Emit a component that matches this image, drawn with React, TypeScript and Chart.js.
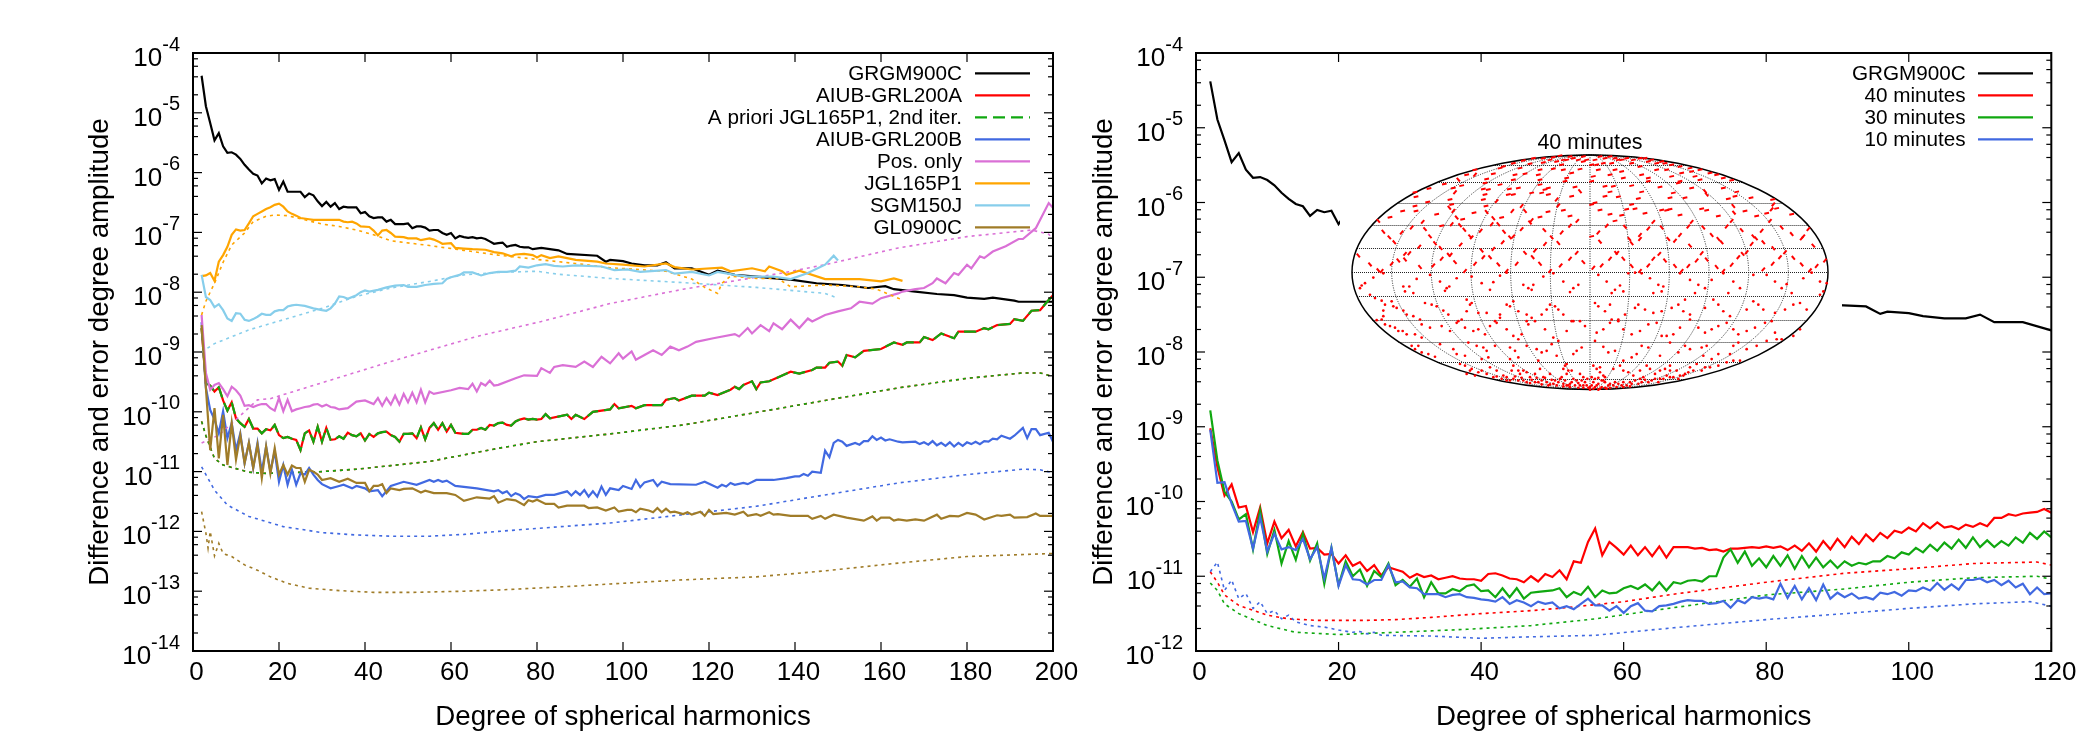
import React, { useEffect, useRef } from "react";
import { Chart, registerables } from "chart.js";

Chart.register(...registerables);

type Row = number[];
const FONT = "'Liberation Sans', Arimo, Helvetica, Arial, sans-serif";
const COL = { black: "#000000", red: "#ff0000", green: "#10a810", blue: "#4169e1", orchid: "#da70d6", orange: "#ffa500", sky: "#87ceeb", brown: "#a07c28" };

// Every row: [degree, log10(amplitude)]
const grgm900c: Row[] = [[2,-4.38],[3,-4.89],[4,-5.17],[5,-5.46],[6,-5.34],[7,-5.56],[8,-5.67],[9,-5.66],[10,-5.70],[11,-5.77],[12,-5.87],[13,-5.95],[14,-6.02],[15,-6.05],[16,-6.18],[17,-6.10],[18,-6.13],[19,-6.11],[20,-6.29],[21,-6.15],[22,-6.32],[23,-6.32],[25,-6.32],[26,-6.41],[27,-6.35],[28,-6.38],[29,-6.48],[30,-6.56],[31,-6.49],[32,-6.57],[33,-6.51],[34,-6.61],[35,-6.57],[36,-6.58],[38,-6.58],[39,-6.68],[40,-6.66],[41,-6.73],[42,-6.76],[43,-6.75],[44,-6.75],[45,-6.82],[46,-6.79],[47,-6.86],[49,-6.86],[50,-6.85],[51,-6.93],[52,-6.90],[53,-6.90],[54,-6.92],[55,-6.97],[56,-6.96],[57,-6.96],[58,-7.01],[59,-7.04],[60,-7.01],[61,-7.10],[62,-7.06],[63,-7.08],[64,-7.09],[65,-7.08],[66,-7.10],[67,-7.09],[68,-7.11],[69,-7.15],[70,-7.19],[71,-7.18],[72,-7.17],[73,-7.24],[74,-7.22],[75,-7.21],[76,-7.24],[77,-7.25],[78,-7.25],[79,-7.28],[81,-7.26],[85,-7.30],[87,-7.36],[94,-7.39],[96,-7.49],[97,-7.46],[100,-7.48],[102,-7.52],[105,-7.55],[108,-7.55],[110,-7.50],[112,-7.60],[116,-7.60],[120,-7.71],[122,-7.64],[126,-7.71],[131,-7.74],[134,-7.76],[139,-7.79],[145,-7.85],[151,-7.88],[157,-7.93],[161,-7.90],[163,-7.95],[168,-7.99],[173,-8.03],[177,-8.05],[180,-8.09],[184,-8.11],[186,-8.09],[191,-8.14],[192,-8.16],[197,-8.16],[200,-8.16]];

const aiubA: Row[] = [[2,-8.6],[3,-9.52],[4,-9.56],[5,-9.66],[6,-9.59],[7,-9.81],[8,-9.98],[9,-9.84],[10,-10.11],[11,-10.19],[12,-10.25],[13,-10.12],[14,-10.28],[15,-10.28],[16,-10.36],[17,-10.29],[18,-10.31],[19,-10.22],[20,-10.39],[21,-10.44],[22,-10.42],[23,-10.45],[24,-10.47],[25,-10.64],[26,-10.36],[27,-10.31],[28,-10.50],[29,-10.25],[30,-10.50],[31,-10.27],[32,-10.47],[33,-10.46],[34,-10.41],[35,-10.45],[36,-10.35],[37,-10.39],[38,-10.41],[39,-10.36],[40,-10.48],[41,-10.37],[42,-10.42],[43,-10.36],[44,-10.34],[45,-10.33],[46,-10.39],[47,-10.42],[48,-10.50],[49,-10.37],[50,-10.37],[51,-10.36],[52,-10.44],[53,-10.26],[54,-10.46],[55,-10.27],[56,-10.19],[57,-10.30],[58,-10.19],[59,-10.33],[60,-10.22],[61,-10.35],[62,-10.36],[63,-10.37],[64,-10.37],[65,-10.30],[66,-10.30],[67,-10.27],[68,-10.30],[69,-10.22],[70,-10.23],[71,-10.19],[72,-10.18],[73,-10.22],[74,-10.23],[75,-10.16],[76,-10.13],[77,-10.11],[78,-10.13],[79,-10.12],[80,-10.13],[81,-10.12],[82,-10.04],[83,-10.11],[87,-10.05],[88,-10.12],[89,-10.05],[91,-10.12],[93,-10.0],[97,-9.96],[98,-9.87],[99,-9.94],[102,-9.90],[103,-9.94],[105,-9.89],[109,-9.89],[110,-9.80],[112,-9.77],[113,-9.81],[116,-9.73],[119,-9.73],[120,-9.68],[122,-9.72],[125,-9.63],[126,-9.58],[127,-9.62],[128,-9.55],[130,-9.49],[131,-9.62],[132,-9.51],[134,-9.49],[139,-9.33],[141,-9.36],[144,-9.30],[145,-9.26],[147,-9.26],[148,-9.18],[150,-9.16],[151,-9.23],[152,-9.05],[154,-9.09],[156,-8.98],[160,-8.95],[163,-8.84],[165,-8.88],[166,-8.84],[169,-8.84],[170,-8.75],[172,-8.80],[174,-8.69],[177,-8.77],[178,-8.66],[182,-8.66],[184,-8.60],[185,-8.62],[187,-8.55],[190,-8.53],[191,-8.45],[193,-8.48],[195,-8.31],[197,-8.30],[199,-8.13],[200,-8.05]];
const aiubANoise: Row[] = [[2,-10.16],[3,-10.4],[5,-10.78],[7,-10.89],[10,-10.95],[13,-11.01],[17,-11.03],[21,-11.02],[30,-11.0],[38,-10.96],[46,-10.90],[55,-10.83],[63,-10.72],[71,-10.61],[80,-10.50],[97,-10.37],[114,-10.22],[131,-10.01],[147,-9.81],[164,-9.60],[180,-9.44],[193,-9.35],[197,-9.35],[200,-9.41]];

const aiubB: Row[] = [[2,-8.5],[3,-9.6],[4,-9.97],[5,-10.13],[6,-10.36],[7,-9.99],[8,-10.44],[9,-10.19],[10,-10.64],[11,-10.36],[12,-10.86],[13,-10.52],[14,-10.94],[15,-10.52],[16,-11.0],[17,-10.58],[18,-11.0],[19,-10.66],[20,-11.17],[21,-10.89],[22,-11.22],[23,-10.97],[24,-11.22],[25,-11.03],[26,-11.05],[27,-10.94],[28,-11.05],[29,-11.14],[30,-11.21],[32,-11.28],[34,-11.24],[35,-11.22],[37,-11.28],[38,-11.24],[40,-11.28],[41,-11.33],[43,-11.31],[44,-11.41],[46,-11.24],[49,-11.17],[52,-11.22],[55,-11.14],[56,-11.17],[57,-11.14],[58,-11.17],[59,-11.15],[61,-11.24],[66,-11.28],[70,-11.33],[71,-11.31],[72,-11.36],[73,-11.33],[74,-11.41],[75,-11.36],[76,-11.39],[77,-11.46],[78,-11.41],[80,-11.43],[82,-11.39],[84,-11.39],[87,-11.33],[88,-11.40],[89,-11.33],[90,-11.39],[91,-11.31],[92,-11.42],[93,-11.33],[94,-11.42],[95,-11.25],[96,-11.39],[97,-11.28],[99,-11.31],[100,-11.24],[102,-11.29],[103,-11.14],[104,-11.26],[105,-11.18],[107,-11.14],[108,-11.24],[109,-11.17],[111,-11.21],[117,-11.22],[119,-11.17],[122,-11.27],[123,-11.22],[124,-11.25],[125,-11.19],[126,-11.22],[128,-11.19],[129,-11.21],[131,-11.14],[135,-11.14],[138,-11.11],[140,-11.08],[141,-11.08],[142,-11.04],[143,-11.07],[144,-11.0],[146,-11.02],[147,-10.65],[148,-10.76],[149,-10.52],[150,-10.47],[151,-10.50],[152,-10.57],[154,-10.52],[155,-10.55],[156,-10.49],[157,-10.49],[158,-10.41],[159,-10.47],[160,-10.43],[161,-10.48],[162,-10.46],[164,-10.50],[165,-10.51],[168,-10.50],[169,-10.54],[170,-10.51],[171,-10.55],[172,-10.49],[173,-10.56],[174,-10.52],[175,-10.57],[176,-10.51],[177,-10.58],[178,-10.52],[179,-10.57],[180,-10.51],[181,-10.54],[182,-10.50],[183,-10.54],[184,-10.49],[185,-10.50],[186,-10.45],[187,-10.46],[188,-10.40],[190,-10.45],[191,-10.40],[193,-10.27],[194,-10.44],[195,-10.29],[196,-10.29],[197,-10.39],[199,-10.35],[200,-10.50]];
const aiubBNoise: Row[] = [[2,-10.92],[5,-11.31],[8,-11.56],[13,-11.75],[21,-11.92],[30,-12.02],[38,-12.06],[46,-12.08],[55,-12.08],[63,-12.05],[71,-12.0],[80,-11.95],[97,-11.86],[114,-11.72],[131,-11.58],[147,-11.39],[164,-11.19],[180,-11.05],[193,-10.96],[197,-10.97],[200,-11.02]];

const posOnly: Row[] = [[2,-8.38],[3,-9.35],[4,-9.63],[5,-9.55],[6,-9.52],[7,-9.62],[8,-9.74],[9,-9.58],[10,-9.64],[11,-9.73],[12,-9.90],[13,-9.89],[14,-9.92],[15,-9.89],[16,-9.87],[17,-9.87],[18,-9.94],[19,-9.98],[20,-9.77],[21,-9.99],[22,-9.80],[23,-9.99],[24,-9.96],[25,-9.94],[26,-9.92],[27,-9.91],[28,-9.88],[29,-9.87],[30,-9.91],[31,-9.88],[32,-9.92],[33,-9.93],[34,-9.96],[36,-9.94],[38,-9.83],[40,-9.81],[42,-9.87],[43,-9.77],[44,-9.90],[45,-9.77],[46,-9.88],[47,-9.73],[48,-9.88],[49,-9.70],[50,-9.84],[51,-9.68],[52,-9.84],[53,-9.63],[54,-9.84],[55,-9.66],[56,-9.70],[60,-9.64],[62,-9.60],[64,-9.62],[65,-9.53],[66,-9.66],[67,-9.52],[68,-9.56],[69,-9.48],[70,-9.56],[71,-9.55],[75,-9.44],[77,-9.39],[80,-9.40],[81,-9.27],[83,-9.35],[84,-9.25],[86,-9.22],[89,-9.25],[91,-9.16],[93,-9.25],[95,-9.08],[97,-9.19],[99,-9.02],[100,-9.11],[102,-8.99],[103,-9.13],[105,-9.05],[107,-8.97],[109,-9.05],[111,-8.91],[113,-8.97],[115,-8.91],[117,-8.83],[121,-8.77],[126,-8.70],[127,-8.74],[129,-8.60],[130,-8.69],[132,-8.55],[134,-8.65],[135,-8.52],[137,-8.62],[139,-8.46],[141,-8.60],[143,-8.44],[144,-8.49],[147,-8.38],[150,-8.32],[153,-8.27],[155,-8.16],[158,-8.19],[160,-8.10],[164,-8.02],[165,-7.99],[168,-7.95],[170,-7.93],[172,-7.85],[173,-7.77],[175,-7.85],[177,-7.68],[178,-7.71],[180,-7.54],[181,-7.60],[183,-7.40],[184,-7.43],[186,-7.32],[189,-7.23],[192,-7.11],[193,-7.11],[196,-6.93],[199,-6.51],[200,-6.59]];
const posOnlyNoise: Row[] = [[2,-10.52],[6,-10.39],[10,-10.13],[15,-9.80],[18,-9.78],[46,-9.16],[66,-8.74],[81,-8.49],[97,-8.19],[114,-7.95],[137,-7.68],[147,-7.54],[164,-7.26],[180,-7.07],[195,-6.96],[199,-7.03],[200,-7.12]];

const jgl165p1: Row[] = [[2,-7.73],[3,-7.72],[4,-7.68],[5,-7.81],[6,-7.49],[7,-7.38],[8,-7.24],[9,-7.04],[10,-6.95],[11,-6.97],[12,-6.96],[13,-6.85],[14,-6.73],[15,-6.69],[16,-6.65],[17,-6.61],[18,-6.58],[19,-6.54],[20,-6.52],[21,-6.57],[22,-6.65],[23,-6.69],[24,-6.72],[25,-6.76],[27,-6.78],[28,-6.79],[34,-6.79],[35,-6.82],[36,-6.83],[37,-6.82],[38,-6.85],[39,-6.90],[41,-6.91],[42,-6.97],[43,-7.05],[44,-6.97],[45,-6.96],[46,-7.01],[47,-7.07],[49,-7.08],[50,-7.10],[52,-7.10],[53,-7.13],[55,-7.10],[56,-7.12],[57,-7.15],[58,-7.19],[60,-7.18],[61,-7.26],[63,-7.27],[65,-7.28],[68,-7.29],[70,-7.33],[72,-7.35],[74,-7.40],[75,-7.37],[77,-7.36],[79,-7.38],[80,-7.42],[81,-7.38],[83,-7.43],[85,-7.40],[87,-7.43],[89,-7.46],[94,-7.49],[96,-7.52],[100,-7.54],[105,-7.57],[110,-7.52],[112,-7.58],[116,-7.62],[123,-7.59],[125,-7.65],[130,-7.60],[133,-7.65],[134,-7.57],[137,-7.65],[138,-7.71],[141,-7.64],[147,-7.78],[155,-7.78],[160,-7.82],[163,-7.77],[165,-7.81]];
const jgl165p1Noise: Row[] = [[2,-8.38],[3,-8.15],[5,-7.85],[7,-7.5],[9,-7.21],[12,-7.01],[14,-6.82],[17,-6.73],[19,-6.71],[22,-6.72],[26,-6.79],[30,-6.86],[34,-6.90],[38,-6.96],[42,-7.04],[46,-7.14],[55,-7.22],[63,-7.30],[71,-7.38],[81,-7.46],[89,-7.52],[97,-7.59],[110,-7.65],[116,-7.78],[119,-7.92],[122,-8.02],[123,-7.85],[125,-7.73],[131,-7.77],[136,-7.77],[139,-7.91],[147,-7.88],[155,-7.91],[159,-7.95],[165,-8.13]];

const sgm150j: Row[] = [[2,-7.71],[3,-8.08],[4,-8.13],[5,-8.25],[6,-8.20],[7,-8.30],[8,-8.44],[9,-8.48],[10,-8.35],[11,-8.36],[12,-8.46],[13,-8.48],[14,-8.45],[15,-8.41],[16,-8.36],[17,-8.38],[18,-8.38],[19,-8.32],[20,-8.30],[21,-8.30],[22,-8.24],[23,-8.22],[24,-8.21],[26,-8.23],[28,-8.27],[30,-8.30],[31,-8.31],[32,-8.27],[33,-8.19],[34,-8.07],[35,-8.08],[36,-8.11],[38,-8.05],[39,-8.0],[40,-7.97],[41,-7.99],[43,-7.96],[45,-7.92],[47,-7.89],[49,-7.88],[50,-7.91],[52,-7.91],[54,-7.88],[56,-7.86],[58,-7.85],[59,-7.78],[60,-7.75],[62,-7.71],[63,-7.67],[65,-7.67],[67,-7.72],[69,-7.68],[71,-7.66],[73,-7.66],[75,-7.64],[76,-7.57],[78,-7.59],[80,-7.55],[82,-7.53],[84,-7.56],[86,-7.57],[89,-7.55],[95,-7.57],[98,-7.63],[101,-7.62],[104,-7.66],[110,-7.63],[112,-7.69],[116,-7.66],[120,-7.72],[122,-7.66],[126,-7.71],[129,-7.74],[135,-7.74],[139,-7.78],[143,-7.68],[147,-7.54],[149,-7.39],[150,-7.47]];
const sgm150jNoise: Row[] = [[2,-9.0],[5,-8.86],[13,-8.63],[22,-8.44],[30,-8.27],[38,-8.07],[46,-7.93],[55,-7.82],[63,-7.71],[71,-7.67],[80,-7.65],[85,-7.70],[97,-7.77],[114,-7.84],[131,-7.92],[147,-8.02],[150,-8.10]];

const gl0900c: Row[] = [[2,-8.55],[3,-9.6],[4,-10.64],[5,-9.94],[6,-10.78],[7,-10.05],[8,-10.89],[9,-10.19],[10,-10.80],[11,-10.39],[12,-10.86],[13,-10.52],[14,-10.94],[15,-10.55],[16,-11.11],[17,-10.58],[18,-11.03],[19,-10.61],[20,-11.05],[21,-10.89],[22,-11.05],[23,-10.90],[24,-10.94],[25,-10.94],[26,-11.17],[27,-10.97],[28,-11.0],[29,-11.05],[30,-11.14],[32,-11.11],[34,-11.17],[36,-11.12],[38,-11.19],[40,-11.19],[41,-11.33],[42,-11.24],[43,-11.24],[44,-11.21],[45,-11.36],[46,-11.28],[48,-11.31],[49,-11.29],[51,-11.28],[53,-11.35],[54,-11.32],[56,-11.36],[59,-11.36],[61,-11.39],[63,-11.49],[66,-11.43],[69,-11.45],[70,-11.41],[71,-11.52],[73,-11.46],[75,-11.48],[77,-11.56],[78,-11.48],[79,-11.50],[80,-11.47],[82,-11.54],[84,-11.54],[85,-11.60],[87,-11.57],[91,-11.57],[92,-11.61],[94,-11.60],[96,-11.65],[98,-11.60],[99,-11.67],[101,-11.64],[102,-11.64],[103,-11.68],[104,-11.62],[106,-11.65],[107,-11.68],[108,-11.61],[109,-11.68],[110,-11.62],[111,-11.68],[112,-11.67],[114,-11.71],[115,-11.68],[116,-11.72],[118,-11.67],[119,-11.74],[120,-11.64],[121,-11.71],[124,-11.69],[126,-11.72],[128,-11.67],[129,-11.74],[131,-11.71],[132,-11.74],[133,-11.71],[134,-11.68],[135,-11.72],[136,-11.71],[139,-11.74],[143,-11.74],[144,-11.79],[146,-11.74],[147,-11.79],[149,-11.72],[152,-11.77],[156,-11.82],[158,-11.75],[159,-11.82],[160,-11.77],[162,-11.77],[163,-11.82],[164,-11.80],[166,-11.82],[168,-11.80],[170,-11.82],[173,-11.72],[174,-11.79],[176,-11.74],[178,-11.75],[180,-11.69],[182,-11.72],[184,-11.80],[187,-11.73],[188,-11.74],[190,-11.72],[191,-11.77],[194,-11.76],[196,-11.70],[197,-11.74],[200,-11.74]];
const gl0900cNoise: Row[] = [[2,-11.67],[3,-12.03],[3.5,-12.28],[4,-12.0],[5,-12.41],[6,-12.2],[7,-12.37],[9,-12.42],[12,-12.56],[15,-12.65],[18,-12.76],[22,-12.87],[27,-12.95],[34,-12.99],[42,-13.02],[51,-13.02],[63,-13.0],[71,-12.98],[85,-12.93],[97,-12.88],[114,-12.81],[131,-12.76],[147,-12.66],[164,-12.53],[180,-12.42],[200,-12.37]];

const red40: Row[] = [[2,-9.02],[3,-9.54],[4,-9.92],[5,-9.77],[6,-10.08],[7,-10.06],[8,-10.41],[9,-10.08],[10,-10.56],[11,-10.27],[12,-10.49],[13,-10.38],[14,-10.60],[15,-10.41],[16,-10.63],[17,-10.62],[18,-10.71],[19,-10.70],[20,-10.83],[21,-10.72],[22,-10.86],[23,-10.81],[24,-10.93],[25,-10.85],[26,-10.99],[27,-10.88],[28,-10.91],[29,-10.94],[30,-11.02],[31,-10.97],[32,-11.01],[33,-10.99],[34,-11.04],[35,-11.02],[36,-11.0],[37,-11.03],[38,-11.04],[39,-11.04],[40,-11.06],[41,-10.97],[42,-10.96],[43,-10.99],[44,-11.03],[45,-11.04],[46,-11.08],[47,-11.0],[48,-11.07],[49,-10.97],[50,-11.01],[51,-10.92],[52,-11.04],[53,-10.80],[54,-10.82],[55,-10.54],[56,-10.36],[57,-10.72],[58,-10.54],[59,-10.62],[60,-10.71],[61,-10.59],[62,-10.72],[63,-10.61],[64,-10.73],[65,-10.60],[66,-10.75],[67,-10.61],[68,-10.61],[69,-10.61],[70,-10.63],[71,-10.62],[72,-10.65],[73,-10.64],[74,-10.67],[75,-10.63],[76,-10.63],[77,-10.62],[78,-10.61],[79,-10.62],[80,-10.60],[81,-10.62],[82,-10.60],[83,-10.65],[84,-10.59],[85,-10.66],[86,-10.56],[87,-10.67],[88,-10.53],[89,-10.64],[90,-10.50],[91,-10.61],[92,-10.47],[93,-10.57],[94,-10.44],[95,-10.53],[96,-10.42],[97,-10.49],[98,-10.39],[99,-10.42],[100,-10.35],[101,-10.40],[102,-10.29],[103,-10.36],[104,-10.28],[105,-10.35],[106,-10.33],[107,-10.37],[108,-10.31],[109,-10.34],[110,-10.29],[111,-10.33],[112,-10.22],[113,-10.22],[114,-10.17],[115,-10.19],[116,-10.16],[117,-10.15],[118,-10.14],[119,-10.10],[120,-10.15]];
const green30: Row[] = [[2,-8.78],[3,-9.45],[4,-9.87],[5,-10.0],[6,-10.24],[7,-10.17],[8,-10.64],[9,-10.12],[10,-10.70],[11,-10.38],[12,-10.83],[13,-10.53],[14,-10.78],[15,-10.43],[16,-10.79],[17,-10.56],[18,-11.10],[19,-10.62],[20,-11.12],[21,-10.80],[22,-11.0],[23,-10.91],[24,-11.13],[25,-10.93],[26,-11.01],[27,-10.83],[28,-11.12],[29,-11.05],[30,-11.14],[31,-11.03],[32,-11.28],[33,-11.08],[34,-11.23],[35,-11.23],[36,-11.17],[37,-11.20],[38,-11.13],[39,-11.11],[40,-11.20],[41,-11.19],[42,-11.28],[43,-11.16],[44,-11.28],[45,-11.16],[46,-11.30],[47,-11.22],[48,-11.21],[49,-11.20],[50,-11.19],[51,-11.16],[52,-11.28],[53,-11.21],[54,-11.25],[55,-11.14],[56,-11.28],[57,-11.19],[58,-11.23],[59,-11.22],[60,-11.16],[61,-11.13],[62,-11.17],[63,-11.11],[64,-11.19],[65,-11.08],[66,-11.19],[67,-11.08],[68,-11.10],[69,-11.06],[70,-11.05],[71,-11.07],[72,-11.0],[73,-11.0],[74,-10.75],[75,-10.64],[76,-10.82],[77,-10.67],[78,-10.86],[79,-10.76],[80,-10.88],[81,-10.73],[82,-10.86],[83,-10.72],[84,-10.90],[85,-10.73],[86,-10.88],[87,-10.75],[88,-10.88],[89,-10.79],[90,-10.89],[91,-10.80],[92,-10.86],[93,-10.82],[94,-10.84],[95,-10.80],[96,-10.80],[97,-10.73],[98,-10.76],[99,-10.68],[100,-10.71],[101,-10.62],[102,-10.68],[103,-10.58],[104,-10.66],[105,-10.55],[106,-10.63],[107,-10.51],[108,-10.62],[109,-10.48],[110,-10.61],[111,-10.52],[112,-10.61],[113,-10.53],[114,-10.59],[115,-10.48],[116,-10.55],[117,-10.42],[118,-10.50],[119,-10.40],[120,-10.48]];
const blue10: Row[] = [[2,-9.04],[3,-9.75],[4,-9.74],[5,-10.03],[6,-10.27],[7,-10.26],[8,-10.63],[9,-10.21],[10,-10.67],[11,-10.43],[12,-10.64],[13,-10.61],[14,-10.65],[15,-10.50],[16,-10.77],[17,-10.61],[18,-11.03],[19,-10.62],[20,-11.13],[21,-10.85],[22,-11.04],[23,-11.05],[24,-11.11],[25,-11.05],[26,-11.05],[27,-10.85],[28,-11.08],[29,-11.07],[30,-11.15],[31,-11.16],[32,-11.24],[33,-11.24],[34,-11.24],[35,-11.28],[36,-11.25],[37,-11.24],[38,-11.28],[39,-11.29],[40,-11.31],[41,-11.32],[42,-11.34],[43,-11.28],[44,-11.37],[45,-11.32],[46,-11.35],[47,-11.40],[48,-11.34],[49,-11.37],[50,-11.35],[51,-11.43],[52,-11.40],[53,-11.44],[54,-11.37],[55,-11.30],[56,-11.39],[57,-11.39],[58,-11.46],[59,-11.40],[60,-11.49],[61,-11.40],[62,-11.36],[63,-11.46],[64,-11.47],[65,-11.40],[66,-11.39],[67,-11.37],[68,-11.34],[69,-11.32],[70,-11.33],[71,-11.33],[72,-11.37],[73,-11.36],[74,-11.33],[75,-11.42],[76,-11.32],[77,-11.36],[78,-11.28],[79,-11.30],[80,-11.28],[81,-11.31],[82,-11.10],[83,-11.29],[84,-11.13],[85,-11.31],[86,-11.16],[87,-11.32],[88,-11.11],[89,-11.30],[90,-11.22],[91,-11.28],[92,-11.23],[93,-11.30],[94,-11.28],[95,-11.31],[96,-11.22],[97,-11.24],[98,-11.21],[99,-11.26],[100,-11.19],[101,-11.20],[102,-11.15],[103,-11.19],[104,-11.09],[105,-11.18],[106,-11.11],[107,-11.18],[108,-11.05],[109,-11.05],[110,-11.03],[111,-11.08],[112,-11.05],[113,-11.12],[114,-11.06],[115,-11.15],[116,-11.10],[117,-11.24],[118,-11.15],[119,-11.24],[120,-11.23]];
const red40Noise: Row[] = [[2,-10.94],[3,-11.08],[4,-11.25],[6,-11.39],[10,-11.52],[13,-11.57],[17,-11.59],[24,-11.59],[28,-11.58],[33,-11.55],[40,-11.50],[47,-11.46],[52,-11.42],[60,-11.34],[67,-11.24],[80,-11.08],[91,-10.96],[100,-10.90],[109,-10.83],[118,-10.81],[120,-10.85]];
const green30Noise: Row[] = [[2,-11.09],[3,-11.19],[4,-11.37],[6,-11.50],[10,-11.66],[14,-11.75],[20,-11.78],[28,-11.75],[38,-11.71],[47,-11.66],[56,-11.57],[67,-11.42],[80,-11.25],[91,-11.17],[100,-11.08],[109,-11.02],[118,-11.0],[120,-11.04]];
const blue10Noise: Row[] = [[2,-10.94],[3,-10.81],[4,-11.19],[5,-11.05],[6,-11.30],[7,-11.23],[8,-11.43],[9,-11.34],[10,-11.50],[11,-11.46],[12,-11.57],[13,-11.52],[14,-11.61],[16,-11.66],[18,-11.68],[20,-11.72],[22,-11.75],[23,-11.74],[24,-11.77],[25,-11.75],[26,-11.79],[33,-11.80],[40,-11.83],[47,-11.81],[56,-11.79],[67,-11.69],[80,-11.58],[91,-11.50],[100,-11.43],[109,-11.37],[117,-11.34],[120,-11.40]];

const xTicksLeft = [0, 200];
const xTicksRight = [0, 120];
const yRangeLeft = [-14, -4];
const yRangeRight = [-12, -4];
const minorMantissas = [2, 4, 6, 8];
const xAxisTitle = "Degree of spherical harmonics";
const yAxisTitle = "Difference and error degree amplitude";
const insetTitle = "40 minutes";

// Ground-track samples of the 40-minute arc, in map-grid units, per map quadrant [along, down]
const nwRise: Row[] = [[125,345],[178,313],[165,315],[275,330],[250,350],[302,318],[375,345],[400,325],[430,300],[500,345],[555,305],[632,350],[660,330],[680,312],[95,367],[345,367],[470,367],[600,367],[155,250],[185,235],[208,293],[218,218],[305,225],[392,245],[365,265],[332,287],[425,225],[490,262],[458,280],[515,240],[545,213],[487,185],[515,170],[585,285],[635,250],[660,230],[682,215],[625,168],[620,150],[310,185],[315,128],[375,75],[440,155]];
const nwFall: Row[] = [[25,320],[60,347],[85,365],[165,332],[145,335],[210,355],[296,318],[315,340],[395,305],[420,325],[445,347],[525,312],[548,325],[570,345],[700,340],[85,215],[100,248],[118,265],[133,280],[225,240],[240,262],[255,283],[272,297],[298,175],[320,205],[330,228],[343,242],[360,262],[410,188],[430,207],[445,225],[462,248],[480,265],[540,220],[525,185],[583,243],[605,265],[625,282],[690,125],[325,90]];
const nwFlat: Row[] = [[158,185],[120,204],[195,170],[198,185],[195,128],[198,142],[237,117],[233,158],[283,103],[260,195],[300,150],[305,165],[338,210],[275,230],[372,190],[408,170],[455,205],[570,203],[594,187],[660,200],[640,183],[665,140],[675,112],[645,95],[650,85],[310,115],[335,108],[350,75],[375,60],[405,100],[410,88],[400,118],[415,120],[405,135],[400,150],[450,105],[450,55],[430,72],[475,135],[490,135],[478,118],[505,115],[490,90],[495,75],[510,55],[525,72],[570,60],[565,75],[570,90],[570,105],[545,130],[585,120],[575,130],[595,115],[595,135],[640,60],[635,45],[640,30],[610,57],[665,70],[690,58],[700,35],[490,40],[520,32],[550,25],[580,38],[610,22],[630,17],[660,20],[700,20],[600,30],[620,35],[650,30],[670,25],[685,30],[710,30],[580,25],[540,42],[460,50]];
const neRise: Row[] = [[10,357],[35,350],[60,330],[82,312],[150,367],[175,350],[190,330],[208,315],[275,367],[295,352],[320,335],[335,313],[400,367],[425,348],[445,325],[470,310],[520,362],[548,345],[570,325],[585,310],[660,365],[680,352],[705,335],[25,250],[50,230],[150,258],[150,270],[175,238],[190,218],[255,275],[270,258],[295,232],[305,218],[410,232],[425,215],[485,285],[515,245],[540,215],[640,262],[635,268],[655,240],[545,180],[550,165]];
const neFall: Row[] = [[100,330],[125,352],[78,312],[225,335],[255,352],[350,332],[380,355],[458,315],[610,327],[635,347],[30,278],[105,233],[118,270],[125,283],[215,235],[235,270],[340,235],[365,258],[385,270],[395,280],[455,243],[490,262],[498,268],[520,280],[575,235],[605,255],[670,290],[550,298],[300,290],[345,125],[350,135],[430,170],[432,190]];
const neFlat: Row[] = [[5,262],[75,215],[15,160],[5,165],[30,182],[60,195],[95,198],[110,180],[135,178],[125,165],[145,147],[165,192],[215,182],[240,180],[230,183],[240,145],[250,130],[270,197],[285,145],[335,178],[350,183],[305,115],[385,200],[415,148],[435,140],[440,127],[465,185],[500,200],[530,192],[560,177],[548,150],[483,145],[400,115],[605,195],[125,108],[155,127],[175,95],[210,112],[45,110],[60,127],[45,140],[85,142],[70,110],[30,20],[40,40],[25,60],[10,80],[5,95],[60,75],[85,30],[75,60],[95,65],[100,85],[125,40],[150,50],[175,35],[155,75],[175,85],[200,60],[215,35],[245,45],[230,60],[245,80],[275,70],[270,95],[265,100],[305,65],[315,80],[330,90],[380,75],[400,85],[425,92],[150,25],[185,30],[300,55],[360,70],[60,20],[110,25],[15,30],[65,40],[5,45],[20,45],[45,25],[75,25],[95,30],[130,30],[165,25],[200,40],[225,40],[270,50],[330,60]];
const swDots: Row[] = [[30,50],[35,42],[45,35],[70,18],[100,5],[200,22],[160,45],[178,45],[165,60],[190,65],[240,10],[270,30],[290,50],[298,45],[285,58],[320,20],[365,15],[395,35],[420,55],[430,32],[450,12],[470,3],[520,40],[535,50],[545,55],[550,40],[580,15],[610,5],[640,30],[670,50],[685,40],[660,62],[60,70],[75,80],[95,88],[105,100],[125,90],[130,105],[140,110],[160,118],[100,118],[100,135],[95,145],[170,130],[190,135],[210,145],[215,160],[225,95],[245,100],[260,105],[280,118],[295,130],[350,85],[360,100],[365,95],[350,120],[385,125],[410,125],[450,130],[450,140],[470,100],[480,105],[490,90],[505,120],[530,130],[545,140],[575,130],[590,115],[600,100],[615,105],[640,130],[625,115],[665,150],[80,147],[105,160],[120,165],[135,170],[145,180],[158,180],[170,190],[195,190],[215,200],[240,170],[275,165],[300,180],[320,155],[335,145],[325,150],[345,170],[370,180],[385,175],[405,190],[420,165],[435,150],[440,155],[470,175],[490,195],[505,205],[515,190],[535,160],[530,150],[555,150],[585,175],[610,200],[625,210],[650,180],[670,150],[690,150],[705,165],[185,225],[205,225],[195,235],[215,245],[235,250],[255,258],[270,220],[310,235],[320,250],[345,255],[355,215],[380,225],[400,230],[410,240],[395,265],[415,260],[435,225],[480,230],[495,240],[480,265],[505,260],[530,225],[560,235],[575,245],[590,240],[565,270],[605,220],[620,255],[680,240],[695,230],[650,280],[670,250],[330,280],[345,285],[365,295],[350,310],[375,315],[395,300],[420,290],[440,300],[460,315],[490,285],[485,300],[470,330],[510,310],[520,300],[490,325],[540,320],[555,310],[570,295],[580,320],[600,310],[590,335],[615,330],[635,320],[655,300],[645,285],[660,340],[680,330],[700,320],[710,345],[690,345],[650,345],[620,345],[555,335],[520,330],[430,320],[440,318],[455,325],[470,320],[480,330],[495,318],[505,330],[515,322],[530,335],[545,328],[560,322],[565,335],[575,330],[585,322],[595,345],[605,328],[610,340],[625,335],[630,325],[640,340],[645,330],[655,345],[665,335],[670,325],[675,345],[685,338],[695,330],[700,345],[705,335],[712,325],[715,352],[700,352],[685,352],[660,350],[640,348],[600,342],[575,342],[540,338],[410,310],[385,305],[360,300],[505,300],[530,305],[650,310],[665,300],[640,295],[690,310]];
const seDots: Row[] = [[25,10],[50,30],[75,55],[90,42],[65,65],[100,60],[115,5],[135,3],[155,5],[180,20],[205,40],[220,45],[190,65],[215,60],[270,5],[300,25],[325,40],[345,50],[315,65],[365,25],[400,5],[430,30],[450,50],[415,65],[490,10],[530,10],[555,30],[575,50],[590,38],[605,65],[640,20],[665,3],[690,30],[700,60],[710,35],[15,95],[25,105],[45,120],[60,100],[85,145],[105,130],[135,110],[145,100],[165,115],[190,125],[215,120],[245,110],[265,100],[285,85],[280,120],[300,130],[345,110],[370,85],[385,100],[400,120],[420,135],[470,115],[490,90],[505,100],[520,115],[555,125],[585,115],[610,100],[630,95],[650,115],[690,70],[20,185],[40,175],[60,155],[85,150],[65,145],[100,175],[125,190],[150,180],[175,160],[200,155],[215,195],[230,195],[250,190],[270,170],[300,145],[325,170],[345,185],[365,175],[385,165],[410,155],[430,175],[445,190],[470,180],[495,170],[525,155],[545,150],[555,185],[575,205],[610,195],[630,175],[15,210],[40,228],[55,245],[75,240],[125,260],[155,225],[140,250],[175,230],[210,255],[240,215],[265,245],[285,225],[300,235],[335,230],[350,225],[340,255],[365,265],[385,250],[430,225],[445,215],[420,250],[430,270],[470,235],[500,225],[530,210],[560,205],[10,285],[20,295],[30,305],[45,320],[70,295],[90,285],[100,270],[115,305],[130,315],[170,285],[180,295],[160,320],[195,310],[225,295],[240,285],[260,300],[285,310],[300,290],[320,280],[345,290],[385,285],[410,275],[450,270],[10,335],[25,340],[40,330],[55,345],[75,335],[95,345],[120,335],[150,325],[175,335],[210,325],[240,320],[270,315],[0,350],[15,350],[35,350],[5,320],[15,325],[25,322],[35,330],[45,335],[60,340],[70,345],[85,340],[100,335],[110,345],[125,340],[135,330],[145,340],[155,335],[165,328],[185,330],[195,325],[205,335],[220,325],[230,315],[250,320],[265,325],[280,315],[295,305],[310,300],[5,345],[20,345],[30,355],[45,352],[60,352],[80,350],[100,350],[120,348],[10,355],[25,358],[50,355],[0,358],[40,315],[30,290],[100,300],[150,300],[210,300],[240,300],[335,300],[360,290]];

const mapLatitudes = [0, 0.205, 0.405, 0.594, 0.766, 0.913];
const mapMeridians = [1, 2, 3, 4, 5];
const mapCentre = [720, 370.5];
const mapRadius = [714, 355.5];

const asPoints = (rows: Row[]) => rows.map(([d, e]) => ({ x: d, y: Math.pow(10, e) }));
const solid = (label: string, rows: Row[], color: string, dash?: number[]) => ({ label, data: asPoints(rows), borderColor: color, backgroundColor: color, borderWidth: 2.2, borderDash: dash || [], pointRadius: 0, tension: 0, fill: false });
const dotted = (rows: Row[], color: string) => ({ label: "", data: asPoints(rows), borderColor: color, backgroundColor: color, borderWidth: 1.6, borderDash: [3, 4], pointRadius: 0, tension: 0, fill: false });

function withOrder(list: any[]) {
  return list.map((d, i) => ({ ...d, order: list.length - i }));
}

function framePlugin(spec: { legendTextRight: number; legendLineFrom: number; legendLineTo: number; xTicks: number[]; yRange: number[] }) {
  return {
    id: "gnuplotFrame",
    afterDatasetsDraw(chart: any) {
      const { ctx, chartArea: a, scales } = chart;
      const { x, y } = scales;
      ctx.save();
      ctx.setLineDash([]);
      ctx.strokeStyle = "#000";
      ctx.fillStyle = "#000";
      ctx.lineWidth = 1.2;
      const seg = (x0: number, y0: number, x1: number, y1: number) => { ctx.beginPath(); ctx.moveTo(x0, y0); ctx.lineTo(x1, y1); ctx.stroke(); };
      x.ticks.forEach((t: any) => {
        const p = x.getPixelForValue(t.value);
        seg(p, a.bottom, p, a.bottom - 9);
        seg(p, a.top, p, a.top + 9);
      });
      for (let e = spec.yRange[0]; e <= spec.yRange[1]; e++) {
        const p = y.getPixelForValue(Math.pow(10, e));
        seg(a.left, p, a.left + 9, p);
        seg(a.right, p, a.right - 9, p);
        if (e < spec.yRange[1]) {
          minorMantissas.forEach((m) => {
            const q = y.getPixelForValue(m * Math.pow(10, e));
            seg(a.left, q, a.left + 5, q);
            seg(a.right, q, a.right - 5, q);
          });
        }
        const expText = String(e);
        ctx.textAlign = "right";
        ctx.textBaseline = "alphabetic";
        ctx.font = `20px ${FONT}`;
        const right = a.left - 13;
        ctx.fillText(expText, right, p - 2.5);
        const w = ctx.measureText(expText).width;
        ctx.font = `26px ${FONT}`;
        ctx.fillText("10", right - w, p + 13);
      }
      ctx.lineWidth = 2;
      ctx.strokeRect(a.left, a.top, a.right - a.left, a.bottom - a.top);

      ctx.font = `20.7px ${FONT}`;
      ctx.textAlign = "right";
      ctx.textBaseline = "middle";
      let row = 0;
      chart.data.datasets.forEach((d: any) => {
        if (!d.label) return;
        const py = 73.3 + 22 * row;
        ctx.fillStyle = "#000";
        ctx.fillText(d.label, spec.legendTextRight, py + 1);
        ctx.strokeStyle = d.borderColor;
        ctx.lineWidth = 2.2;
        ctx.setLineDash(d.borderDash || []);
        seg(spec.legendLineFrom, py, spec.legendLineTo, py);
        row++;
      });
      ctx.restore();
    },
  };
}

function axisOptions(maxX: number, yMinExp: number, yMaxExp: number, yWidth: number, titleLeft: number) {
  return {
    x: {
      type: "linear", min: 0, max: maxX,
      afterFit: (s: any) => { s.height = 83; },
      grid: { display: false, drawTicks: false }, border: { display: false },
      ticks: { stepSize: 20, autoSkip: false, maxRotation: 0, color: "#000", padding: 6, labelOffset: 3.5, font: { family: FONT, size: 26 } },
      title: { display: true, text: xAxisTitle, color: "#000", padding: { top: 0, bottom: 0 }, font: { family: FONT, size: 27.7 } },
    },
    y: {
      type: "logarithmic", min: Math.pow(10, yMinExp), max: Math.pow(10, yMaxExp),
      afterFit: (s: any) => { s.width = yWidth; },
      grid: { display: false, drawTicks: false }, border: { display: false },
      ticks: { display: false },
      title: { display: true, text: yAxisTitle, color: "#000", padding: { top: titleLeft, bottom: 0 }, font: { family: FONT, size: 27.7 } },
    },
  };
}

function insetDatasets() {
  const east = (rows: Row[]) => rows.map(([a, b]) => [a + 720, b]);
  const south = (rows: Row[]) => rows.map(([a, b]) => [a, b + 369]);
  const xy = (rows: Row[]) => rows.map(([a, b]) => ({ x: a, y: b }));
  const dash = (rows: Row[], rotation: number) => ({ data: xy(rows), showLine: false, pointStyle: "line", rotation, pointRadius: 2.4, borderColor: "#ff0000", backgroundColor: "#ff0000", pointBorderWidth: 2, pointBorderColor: "#ff0000" });
  return [
    dash([...nwRise, ...east(neRise)], -50),
    dash([...nwFall, ...east(neFall)], 50),
    dash([...nwFlat, ...east(neFlat)], -12),
    { data: xy([...south(swDots), ...south(east(seDots))]), showLine: false, pointStyle: "circle", pointRadius: 1.35, pointBorderWidth: 0, backgroundColor: "#ff0000", borderColor: "#ff0000" },
  ];
}

const graticule = {
  id: "graticule",
  beforeDatasetsDraw(chart: any) {
    const { ctx, scales } = chart;
    const { x, y } = scales;
    const [cx, cy] = mapCentre;
    const [rx, ry] = mapRadius;
    const X = (v: number) => x.getPixelForValue(v);
    const Y = (v: number) => y.getPixelForValue(v);
    ctx.save();
    ctx.strokeStyle = "#222";
    ctx.lineWidth = 1;
    ctx.setLineDash([1, 1]);
    mapLatitudes.forEach((s) => {
      [1, -1].forEach((sign) => {
        if (s === 0 && sign < 0) return;
        const half = Math.sqrt(1 - s * s) * rx;
        const py = Math.round(Y(cy + sign * s * ry)) + 0.5;
        ctx.beginPath();
        ctx.moveTo(X(cx - half), py);
        ctx.lineTo(X(cx + half), py);
        ctx.stroke();
      });
    });
    ctx.strokeStyle = "#222";
    ctx.lineWidth = 1;
    ctx.setLineDash([1, 1.4]);
    const centre = { x: X(cx), y: Y(cy) };
    const pxRy = Math.abs(Y(cy + ry) - Y(cy));
    const pxRx = Math.abs(X(cx + rx) - X(cx));
    ctx.beginPath();
    ctx.moveTo(centre.x, centre.y - pxRy);
    ctx.lineTo(centre.x, centre.y + pxRy);
    ctx.stroke();
    mapMeridians.forEach((k) => {
      ctx.beginPath();
      ctx.ellipse(centre.x, centre.y, (pxRx * k) / 6, pxRy, 0, 0, Math.PI * 2);
      ctx.stroke();
    });
    ctx.setLineDash([]);
    ctx.strokeStyle = "#000";
    ctx.lineWidth = 1.5;
    ctx.beginPath();
    ctx.ellipse(centre.x, centre.y, pxRx, pxRy, 0, 0, Math.PI * 2);
    ctx.stroke();
    ctx.fillStyle = "#000";
    ctx.font = `21.5px ${FONT}`;
    ctx.textAlign = "center";
    ctx.textBaseline = "alphabetic";
    ctx.fillText(insetTitle, centre.x, centre.y - pxRy - 6);
    ctx.restore();
  },
};

export default function App() {
  const leftRef = useRef<HTMLCanvasElement | null>(null);
  const rightRef = useRef<HTMLCanvasElement | null>(null);
  const insetRef = useRef<HTMLCanvasElement | null>(null);

  useEffect(() => {
    const base = { responsive: false, animation: false, devicePixelRatio: 1, plugins: { legend: { display: false }, tooltip: { enabled: false } } };
    const left = new Chart(leftRef.current as any, {
      type: "line",
      data: {
        datasets: withOrder([
          solid("GRGM900C", grgm900c, COL.black),
          solid("AIUB-GRL200A", aiubA, COL.red),
          dotted(aiubANoise, COL.red),
          solid("A priori JGL165P1, 2nd iter.", aiubA, COL.green, [12, 6]),
          dotted(aiubANoise, COL.green),
          solid("AIUB-GRL200B", aiubB, COL.blue),
          dotted(aiubBNoise, COL.blue),
          solid("Pos. only", posOnly, COL.orchid),
          dotted(posOnlyNoise, COL.orchid),
          solid("JGL165P1", jgl165p1, COL.orange),
          dotted(jgl165p1Noise, COL.orange),
          solid("SGM150J", sgm150j, COL.sky),
          dotted(sgm150jNoise, COL.sky),
          solid("GL0900C", gl0900c, COL.brown),
          dotted(gl0900cNoise, COL.brown),
        ]),
      },
      options: { ...base, layout: { padding: { top: 53, right: 47, left: 0, bottom: 0 } }, scales: axisOptions(xTicksLeft[1], yRangeLeft[0], yRangeLeft[1], 193, 84) } as any,
      plugins: [framePlugin({ legendTextRight: 962, legendLineFrom: 975, legendLineTo: 1030, xTicks: xTicksLeft, yRange: yRangeLeft })],
    } as any);

    const right = new Chart(rightRef.current as any, {
      type: "line",
      data: {
        datasets: withOrder([
          solid("GRGM900C", grgm900c, COL.black),
          solid("40 minutes", red40, COL.red),
          dotted(red40Noise, COL.red),
          solid("30 minutes", green30, COL.green),
          dotted(green30Noise, COL.green),
          solid("10 minutes", blue10, COL.blue),
          dotted(blue10Noise, COL.blue),
        ]),
      },
      options: { ...base, layout: { padding: { top: 53, right: 22, left: 0, bottom: 0 } }, scales: axisOptions(xTicksRight[1], yRangeRight[0], yRangeRight[1], 136, 28) } as any,
      plugins: [framePlugin({ legendTextRight: 1965.7 - 1060, legendLineFrom: 1978 - 1060, legendLineTo: 2033 - 1060, xTicks: xTicksRight, yRange: yRangeRight })],
    } as any);

    const inset = new Chart(insetRef.current as any, {
      type: "scatter",
      data: { datasets: insetDatasets() as any },
      options: {
        ...base,
        layout: { padding: { left: 10, right: 12, top: 25, bottom: 3.33 } },
        scales: {
          x: { type: "linear", min: 0, max: 1440, display: false },
          y: { type: "linear", min: 0, max: 740, reverse: true, display: false },
        },
      } as any,
      plugins: [graticule],
    } as any);

    return () => { left.destroy(); right.destroy(); inset.destroy(); };
  }, []);

  const abs = (l: number, t: number) => ({ position: "absolute" as const, left: l, top: t, display: "block" });
  return (
    <div style={{ position: "absolute", left: 0, top: 0, width: 2079, height: 734, overflow: "hidden", background: "#fff" }}>
      <canvas ref={leftRef} width={1100} height={734} style={abs(0, 0)} />
      <canvas ref={rightRef} width={1019} height={734} style={abs(1060, 0)} />
      <canvas ref={insetRef} width={502} height={275} style={{ ...abs(1340, 125), background: "#fff" }} />
    </div>
  );
}
